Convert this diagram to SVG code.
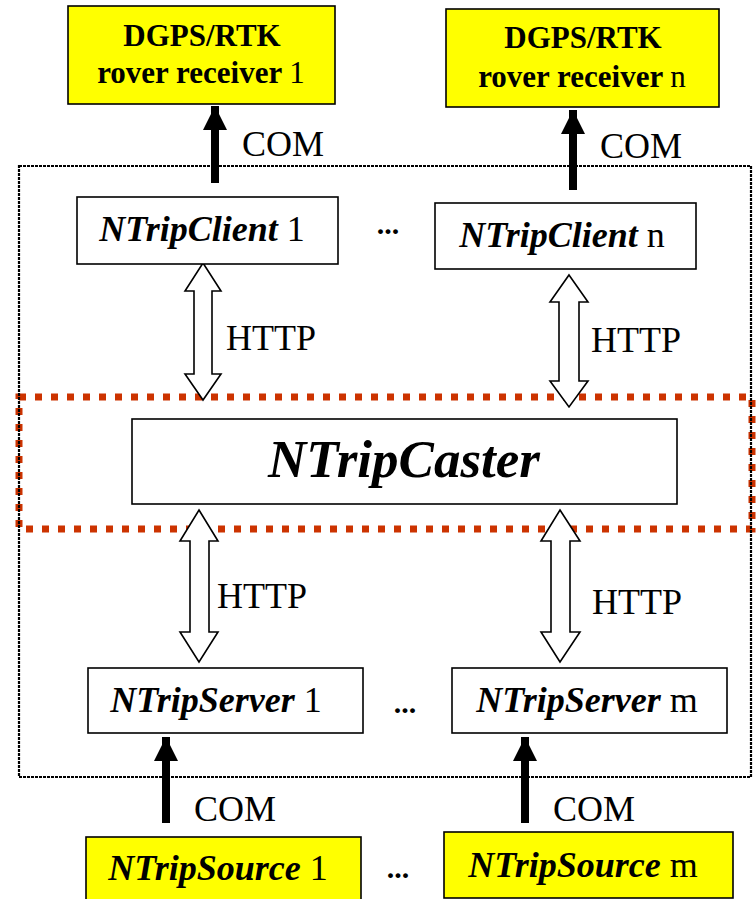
<svg xmlns="http://www.w3.org/2000/svg" width="756" height="899" viewBox="0 0 756 899">
<style>
.box{fill:#fff;stroke:#000;stroke-width:1.6}
.ybox{fill:#ffff00;stroke:#000;stroke-width:1.6}
.nm{font-family:"Liberation Serif","Times New Roman",serif;font-size:36px;fill:#000}
.big{font-size:53px}
.bi{font-weight:bold;font-style:italic}
.rv{font-family:"Liberation Serif","Times New Roman",serif;font-size:31px;font-weight:bold;fill:#000}
.lbl{font-family:"Liberation Serif","Times New Roman",serif;font-size:36px;fill:#000}
.dots{font-family:"Liberation Serif","Times New Roman",serif;font-size:30px;font-weight:bold;fill:#000}
.com{stroke:#000;stroke-width:8;fill:none}
.http{fill:#fff;stroke:#000;stroke-width:1.6;stroke-linejoin:miter}
</style>
<defs>
<marker id="ah" markerUnits="userSpaceOnUse" markerWidth="24" markerHeight="24" viewBox="0 0 24 24" refX="24" refY="12" orient="auto">
<path d="M0,0 L24,12 L0,24 Z" fill="#000"/>
</marker>
</defs>
<rect id="caster-zone" x="19" y="397" width="733" height="132" fill="none" stroke="#cc3300" stroke-width="7" stroke-dasharray="7 9"/>
<rect id="system-boundary" x="19" y="166" width="732" height="611" fill="none" stroke="#000" stroke-width="2.2" stroke-dasharray="3 1"/>
<g id="connectors">
<line class="com" x1="215" y1="183" x2="215" y2="106" marker-end="url(#ah)"/>
<line class="com" x1="573" y1="190" x2="573" y2="110" marker-end="url(#ah)"/>
<line class="com" x1="166" y1="823" x2="166" y2="737" marker-end="url(#ah)"/>
<line class="com" x1="525" y1="823" x2="525" y2="737" marker-end="url(#ah)"/>
<polygon class="http" points="203,263 221,291 212,291 212,374 221,374 203,400 185,374 194,374 194,291 185,291"/>
<polygon class="http" points="569,275 588,302 579,302 579,381 588,381 569,407 550,381 559,381 559,302 550,302"/>
<polygon class="http" points="199,510 218,541 209,541 209,632 218,632 199,662 180,632 190,632 190,541 180,541"/>
<polygon class="http" points="560,510 580,541 570,541 570,632 580,632 560,662 541,632 551,632 551,541 541,541"/>
<text class="lbl" x="242" y="156">COM</text>
<text class="lbl" x="600" y="158">COM</text>
<text class="lbl" x="226" y="350">HTTP</text>
<text class="lbl" x="591" y="352">HTTP</text>
<text class="lbl" x="217" y="608">HTTP</text>
<text class="lbl" x="592" y="614">HTTP</text>
<text class="lbl" x="194" y="821">COM</text>
<text class="lbl" x="553" y="821">COM</text>
</g>
<g id="rover1">
<rect class="ybox" x="68" y="6" width="267" height="98"/>
<text class="rv" x="202" y="46" text-anchor="middle">DGPS/RTK</text>
<text class="rv" x="201" y="83" text-anchor="middle">rover receiver <tspan font-weight="normal">1</tspan></text>
</g>
<g id="rovern">
<rect class="ybox" x="446" y="9" width="273" height="98"/>
<text class="rv" x="583" y="48" text-anchor="middle">DGPS/RTK</text>
<text class="rv" x="582" y="87" text-anchor="middle">rover receiver <tspan font-weight="normal">n</tspan></text>
</g>
<g id="client1">
<rect class="box" x="77" y="197" width="261" height="67"/>
<text class="nm" x="202" y="241" text-anchor="middle"><tspan class="bi">NTripClient</tspan> 1</text>
</g>
<g id="clientn">
<rect class="box" x="435" y="203" width="261" height="66"/>
<text class="nm" x="562" y="247" text-anchor="middle"><tspan class="bi">NTripClient</tspan> n</text>
</g>
<text class="dots" x="388" y="234" text-anchor="middle">...</text>
<g id="caster">
<rect class="box" x="132" y="419" width="545" height="85"/>
<text class="nm bi big" x="404" y="477" text-anchor="middle">NTripCaster</text>
</g>
<g id="server1">
<rect class="box" x="88" y="668" width="275" height="65"/>
<text class="nm" x="216" y="712" text-anchor="middle"><tspan class="bi">NTripServer</tspan> 1</text>
</g>
<g id="serverm">
<rect class="box" x="452" y="668" width="275" height="65"/>
<text class="nm" x="587" y="712" text-anchor="middle"><tspan class="bi">NTripServer</tspan> m</text>
</g>
<text class="dots" x="405" y="713" text-anchor="middle">...</text>
<g id="source1">
<rect class="ybox" x="86" y="837" width="275" height="70"/>
<text class="nm" x="218" y="880" text-anchor="middle"><tspan class="bi">NTripSource</tspan> 1</text>
</g>
<g id="sourcem">
<rect class="ybox" x="444" y="832" width="289" height="66"/>
<text class="nm" x="583" y="877" text-anchor="middle"><tspan class="bi">NTripSource</tspan> m</text>
</g>
<text class="dots" x="398" y="878" text-anchor="middle">...</text>
</svg>
